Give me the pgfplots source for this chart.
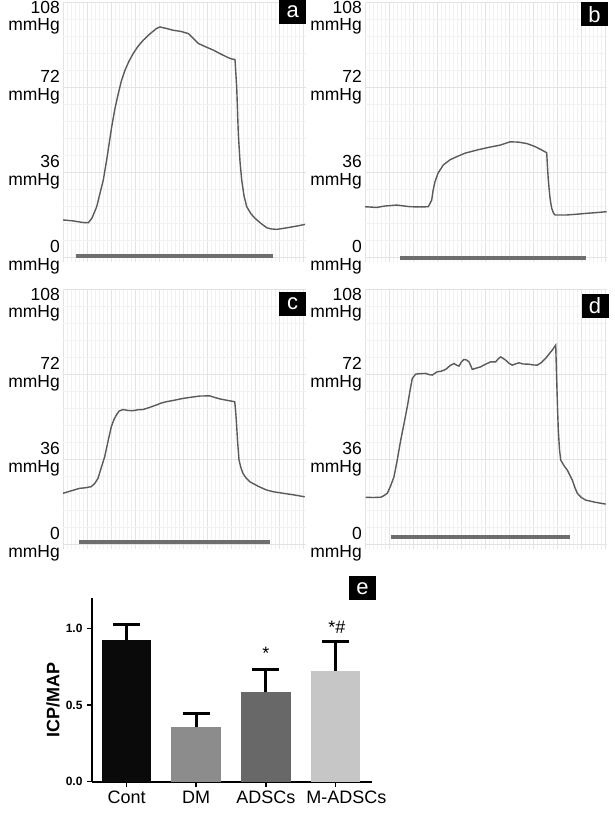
\documentclass[border=0pt]{standalone}
\usepackage{pgfplots}
\pgfplotsset{compat=1.18}
\usepackage{fontspec}
\setmainfont{Liberation Sans}
\definecolor{trace}{HTML}{5A5A5A}
\definecolor{stim}{HTML}{6E6E6E}
\definecolor{cont}{HTML}{0A0A0A}
\definecolor{dm}{HTML}{8C8C8C}
\definecolor{ads}{HTML}{686868}
\definecolor{mads}{HTML}{C6C6C6}
\newcommand\lf{\fontsize{17.5}{17.5}\selectfont}
\pgfplotsset{
  trace/.style={
    scale only axis, anchor=south west,
    height=259.5pt, xmin=0, ymin=-2, ymax=108,
    axis line style={draw=none}, tick style={draw=none}, major tick length=0pt, minor tick length=0pt,
    xtick={0,24,...,240}, minor x tick num=5, xticklabels={},
    ytick={0,36,72}, yticklabels={{0\\mmHg},{36\\mmHg},{72\\mmHg}},
    minor ytick={7.2,14.4,21.6,28.8,43.2,50.4,57.6,64.8,79.2,86.4,93.6,100.8},
    extra y ticks={108}, extra y tick labels={{108\\mmHg}},
    extra y tick style={yticklabel style={anchor=north east, yshift=1.5pt}},
    yticklabel style={align=right, anchor=east, inner sep=0pt, xshift=-3pt, font=\lf},
    grid=both,
    major grid style={gray!22, line width=0.8pt},
    minor grid style={gray!11, line width=0.6pt},
    clip=false,
  },
  tr/.style={color=trace, line width=1.4pt},
  st/.style={color=stim, line width=4pt},
}
\tikzset{box/.style={fill=black, text=white, font=\fontsize{22}{22}\selectfont, minimum width=27pt, minimum height=24pt, inner sep=0pt}}
\begin{document}
\begin{tikzpicture}
\useasboundingbox (0,0) rectangle (614pt,816pt);
% panel a
\begin{axis}[trace, at={(63pt,554.3pt)}, width=243pt, xmax=243]
\addplot[tr] coordinates {(0,15.7) (10,15.3) (20,14.6) (25.3,14.5) (29,16.5) (33.7,21.3) (37,27) (40.3,32.6) (44,42) (48.7,55.2) (52,63) (55.3,69.3) (58.5,74.8) (62,79.2) (66,83) (70.3,86.3) (75,89.3) (80.3,91.9) (87,94.6) (93.7,96.9) (97,97.5) (103,96.9) (110.3,96.1) (118,95.6) (125.3,94.7) (130,92.8) (135.3,90.5) (142,89.2) (150.3,87.7) (157,86.2) (163.7,84.8) (168,84) (172,83.7) (173.7,72.1) (175.3,52.4) (177,40.5) (178.7,32.6) (181,26) (183.7,21.3) (188,18.3) (192,16.4) (198,14.2) (203.7,12.4) (208,11.9) (213.7,11.7) (220,12.1) (227,12.6) (235,13.2) (242,13.8)};
\addplot[st] coordinates {(13,0.4) (209.7,0.4)};
\end{axis}
% panel b
\begin{axis}[trace, at={(365pt,554.3pt)}, width=242pt, xmax=242]
\addplot[tr] coordinates {(0,21.3) (11.7,21) (20,21.6) (31.7,22) (45,21.3) (55,21.2) (63.3,21.3) (66.7,24.1) (68,28) (70,31.9) (73,35.5) (78.3,39) (85,41.2) (91.7,42.5) (100,44) (111.7,45.3) (123,46.4) (135,47.4) (140,48.1) (145,48.8) (153,48.7) (161.7,48.1) (170,46.8) (176,45.5) (181.7,44.2) (182.5,38) (183.3,32.6) (185,25) (186.7,20.6) (188.5,18.6) (190,17.8) (201.7,17.8) (211,18.1) (221.7,18.5) (231,18.8) (241.7,19.2)};
\addplot[st] coordinates {(35,-0.6) (221,-0.6)};
\end{axis}
% panel c
\begin{axis}[trace, at={(63pt,267.3pt)}, width=243pt, xmax=243]
\addplot[tr] coordinates {(0,21.5) (8,22.5) (16.7,23.6) (22,23.8) (28.3,24.3) (32,25.8) (35,27.8) (38,32) (41.7,37) (45,43.5) (48.3,49.7) (51,52.8) (53.3,54.6) (56,56.3) (60,57) (65,56.6) (70,56.5) (75,56.9) (80,57) (86,57.8) (93.3,58.9) (98,59.7) (103.3,60.3) (111,60.9) (120,61.7) (128,62.2) (136.7,62.7) (146.7,62.8) (151,62.2) (156.7,61.5) (164,60.9) (171.7,60.3) (172.5,57) (173.3,52.5) (174.5,44) (176,35.6) (178,32.2) (180,29.9) (183,28) (186.7,26.4) (195,24.5) (203.3,22.9) (211,22.1) (220,21.5) (231,20.8) (241.7,20)};
\addplot[st] coordinates {(16,0.7) (207,0.7)};
\end{axis}
% panel d
\begin{axis}[trace, at={(365pt,267.3pt)}, width=242pt, xmax=242]
\addplot[tr] coordinates {(0.7,19.8) (8,19.7) (15.7,19.8) (19,20.5) (22.3,21.5) (25.5,24.5) (29,28.5) (32,35) (35.7,44) (39,51) (42.3,58.2) (45,65) (47.3,70.2) (50.7,72) (55,72.2) (60.7,72.3) (64,71.8) (67.3,71.6) (70,72.4) (72.3,73) (76,73.2) (80.7,74) (85,75.6) (89,76.5) (91.5,75.8) (94,75.4) (96.5,77.2) (99,78.2) (101.5,78) (104,77.2) (106,75.3) (107.3,74) (111,74.5) (115.7,75.1) (120,76.1) (125.7,77.2) (130.7,77.2) (133,78.4) (135.7,79.3) (138,78.7) (140.7,77.9) (144,76.6) (147.3,75.8) (151,76.4) (154,76.8) (158,76.3) (164,76.2) (168,75.9) (172.3,75.8) (176,76.8) (180.7,78.7) (184,80.5) (187.3,82.2) (190.7,84.3) (191.7,69.5) (192.5,58) (193.3,48.3) (194.5,40) (195.7,35.6) (199,33.2) (202.3,31.3) (205,29) (207.3,27.1) (210,23.8) (212.3,21.5) (216,19.8) (220.7,18.6) (230,17.7) (240.7,16.9)};
\addplot[st] coordinates {(25.7,2.8) (204.7,2.8)};
\end{axis}
% panel e
\begin{axis}[at={(91.7pt,34.3pt)}, anchor=south west, scale only axis,
  width=280pt, height=184pt, xmin=-0.5, xmax=3.52, ymin=0, ymax=1.2,
  axis x line*=bottom, axis y line*=left,
  axis line style={line width=2pt, black},
  ytick={0,0.5,1.0}, yticklabels={0.0,0.5,1.0},
  yticklabel style={font=\bfseries\fontsize{12}{12}\selectfont, inner sep=0pt, xshift=-4pt},
  xtick={0,1,2,3}, xticklabels={Cont,DM,ADSCs,{\hspace*{22pt}M-ADSCs}},
  xticklabel style={font=\fontsize{18}{18}\selectfont, inner sep=0pt, yshift=-4pt},
  tick align=outside, major tick length=5pt, tick style={black, line width=1.5pt},
  ylabel={ICP/MAP},
  every axis y label/.style={at={(axis description cs:-0.138,0.444)}, rotate=90, anchor=center, font=\bfseries\fontsize{18}{18}\selectfont},
  ybar, bar width=49.5pt, bar shift=0pt,
  clip=false,
  error bars/error bar style={black, line width=3pt},
  error bars/error mark options={rotate=90, mark size=13.5pt, line width=3pt, black},
]
\addplot[fill=cont, draw=none, error bars/.cd, y dir=plus, y explicit] coordinates {(0,0.924) +- (0,0.103)};
\addplot[fill=dm, draw=none, error bars/.cd, y dir=plus, y explicit] coordinates {(1,0.355) +- (0,0.091)};
\addplot[fill=ads, draw=none, error bars/.cd, y dir=plus, y explicit] coordinates {(2,0.583) +- (0,0.150)};
\addplot[fill=mads, draw=none, error bars/.cd, y dir=plus, y explicit] coordinates {(3,0.724) +- (0,0.189)};
\node[font=\fontsize{18}{18}\selectfont] at (axis cs:2,0.836) {*};
\node[font=\fontsize{18}{18}\selectfont] at (axis cs:3.02,1.009) {*\#};
\end{axis}
\node[box] at (292.7pt,804.3pt) {a};
\node[box] at (594.5pt,801.5pt) {b};
\node[box] at (292.7pt,512pt) {c};
\node[box] at (595pt,510pt) {d};
\node[box] at (362.5pt,227.5pt) {e};
\end{tikzpicture}
\end{document}
